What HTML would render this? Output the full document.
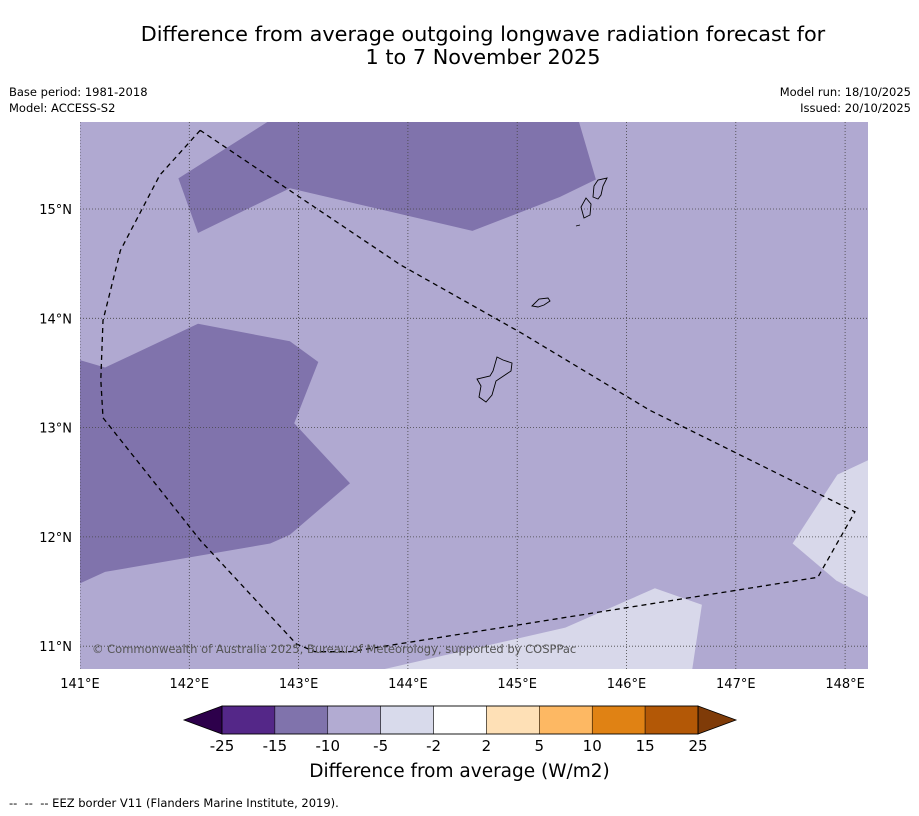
<!DOCTYPE html>
<html><head><meta charset="utf-8">
<style>
body{margin:0;background:#fff;width:919px;height:816px;overflow:hidden;font-family:"DejaVu Sans","Liberation Sans",sans-serif;}
.t{position:absolute;color:#000;}
svg text{font-family:"DejaVu Sans","Liberation Sans",sans-serif;}
</style></head>
<body>
<div class="t" style="left:0;width:966px;top:23px;text-align:center;font-size:20.8px;line-height:23px;">Difference from average outgoing longwave radiation forecast for<br>1 to 7 November 2025</div>
<div class="t" style="left:9px;top:84px;font-size:11.5px;line-height:16px;">Base period: 1981-2018<br>Model: ACCESS-S2</div>
<div class="t" style="right:8px;top:84px;font-size:11.5px;line-height:16px;text-align:right;">Model run: 18/10/2025<br>Issued: 20/10/2025</div>
<div class="t" style="left:0;width:919px;text-align:center;top:761px;font-size:18.5px;"><span style="position:relative;left:0px">Difference from average (W/m2)</span></div>
<div class="t" style="left:9px;top:796px;font-size:11.5px;">-- &nbsp;-- &nbsp;-- EEZ border V11 (Flanders Marine Institute, 2019).</div>
<svg id="svg" width="919" height="816" style="position:absolute;left:0;top:0"></svg>
<script>
const lonTicks=[141,142,143,144,145,146,147,148];
const latTicks=[11,12,13,14,15];
const darkTop=[[141.90,15.28],[142.80,15.85],[145.55,15.85],[145.72,15.27],[145.39,15.11],[144.59,14.80],[142.92,15.19],[142.08,14.78]];
const darkLeft=[[140.99,13.62],[141.23,13.55],[142.08,13.95],[142.92,13.79],[143.18,13.60],[142.96,13.04],[143.47,12.49],[142.92,12.02],[142.74,11.94],[141.23,11.68],[140.99,11.57]];
const lightRight=[[148.25,12.72],[147.93,12.57],[147.52,11.94],[147.92,11.60],[148.25,11.43]];
const lightBottom=[[143.74,10.78],[145.44,11.17],[146.26,11.53],[146.69,11.38],[146.60,10.78]];
const eez=[[142.10,15.72],[141.73,15.31],[141.37,14.62],[141.21,13.98],[141.19,13.44],[141.21,13.09],[142.10,11.97],[142.98,11.02],[143.15,10.95],[143.47,10.95],[147.75,11.63],[148.09,12.23],[146.21,13.16],[145.03,13.87],[143.93,14.49],[142.10,15.72]];
const cbColors=["#542788","#8073ac","#b2abd2","#d8daeb","#ffffff","#fee0b6","#fdb863","#e08214","#b35806"];
const cbLabels=["-25","-15","-10","-5","-2","2","5","10","15","25"];
const cbLow="#2d004b", cbHigh="#7f3b08";

const X0=80,X1=868,Y0=122,Y1=669;
const px=lon=>80+(lon-141)*109.3;
const py=lat=>209-(lat-15)*109.3;
const svg=document.getElementById('svg');
const NS="http://www.w3.org/2000/svg";
function mk(tag,attrs){const e=document.createElementNS(NS,tag);for(const k in attrs)e.setAttribute(k,attrs[k]);svg.appendChild(e);return e;}
const defs=mk('defs',{});
const cp=document.createElementNS(NS,'clipPath');cp.setAttribute('id','mapclip');
const cr=document.createElementNS(NS,'rect');cr.setAttribute('x',X0);cr.setAttribute('y',Y0);cr.setAttribute('width',X1-X0);cr.setAttribute('height',Y1-Y0);cp.appendChild(cr);defs.appendChild(cp);
const g=mk('g',{'clip-path':'url(#mapclip)'});
function add(parent,tag,attrs){const e=document.createElementNS(NS,tag);for(const k in attrs)e.setAttribute(k,attrs[k]);parent.appendChild(e);return e;}
let bg=add(g,'rect',{x:X0,y:Y0,width:X1-X0,height:Y1-Y0,fill:'#b0a9d1'});


const pts=a=>a.map(p=>px(p[0]).toFixed(1)+','+py(p[1]).toFixed(1)).join(' ');
[[darkTop,'#8073ac','anomaly-region-north'],[darkLeft,'#8073ac','anomaly-region-west'],[lightRight,'#d8d8ea','anomaly-region-east'],[lightBottom,'#d8d8ea','anomaly-region-south']].forEach(r=>{
 const e=add(g,'polygon',{points:pts(r[0]),fill:r[1]});
 
 
});
lonTicks.forEach(l=>{const e=add(g,'line',{x1:px(l),x2:px(l),y1:Y0,y2:Y1,stroke:'#444','stroke-width':0.8,'stroke-dasharray':'1,2'});
 
 });
latTicks.forEach(l=>{const e=add(g,'line',{x1:X0,x2:X1,y1:py(l),y2:py(l),stroke:'#444','stroke-width':0.8,'stroke-dasharray':'1,2'});
 
 });
const islands=["M497,357 L503,360 L512,363 L511,371 L496,381 L492,395 L486,402 L479,397 L481,386 L477,379 L490,376 L493,371Z",
"M532,306 L539,299 L548,298 L550,301 L544,305 L538,307Z",
"M586,198 L591,204 L590,215 L584,218 L581,207Z",
"M594,186 L598,180 L607,178 L603,186 L601,195 L598,199 L593,197Z",
"M576,226 L580,225"];
islands.forEach(d=>{const e=add(g,'path',{d:d,fill:'none',stroke:'#000','stroke-width':0.9});
 
 });
const ez=add(g,'polyline',{points:pts(eez),fill:'none',stroke:'#000','stroke-width':1.3,'stroke-dasharray':'5,4'});


const cpt=add(g,'text',{x:92,y:653,'font-size':11.5,fill:'#555'});
cpt.textContent='© Commonwealth of Australia 2025, Bureau of Meteorology, supported by COSPPac';


lonTicks.forEach(l=>{const t=mk('text',{x:px(l),y:688,'font-size':13,'text-anchor':'middle'});t.textContent=l+'°E';
 
 });
latTicks.forEach(l=>{const t=mk('text',{x:72,y:py(l)+5,'font-size':13,'text-anchor':'end'});t.textContent=l+'°N';
 
 });
const cbx0=222,cbx1=698,cby=706,cbh=28,bw=(cbx1-cbx0)/cbColors.length;
const lt=mk('polygon',{points:`${cbx0},${cby} ${cbx0-38},${cby+cbh/2} ${cbx0},${cby+cbh}`,fill:cbLow,stroke:'#000','stroke-width':0.8});


const rt=mk('polygon',{points:`${cbx1},${cby} ${cbx1+38},${cby+cbh/2} ${cbx1},${cby+cbh}`,fill:cbHigh,stroke:'#000','stroke-width':0.8});


cbColors.forEach((c,i)=>{const r=mk('rect',{x:cbx0+i*bw,y:cby,width:bw,height:cbh,fill:c,stroke:'#000','stroke-width':0.5});
 
 });
mk('rect',{x:cbx0,y:cby,width:cbx1-cbx0,height:cbh,fill:'none',stroke:'#000','stroke-width':0.8});
cbLabels.forEach((s,i)=>{const t=mk('text',{x:cbx0+i*bw,y:751,'font-size':15,'text-anchor':'middle'});t.textContent=s;
 
 });
</script>
</body></html>
